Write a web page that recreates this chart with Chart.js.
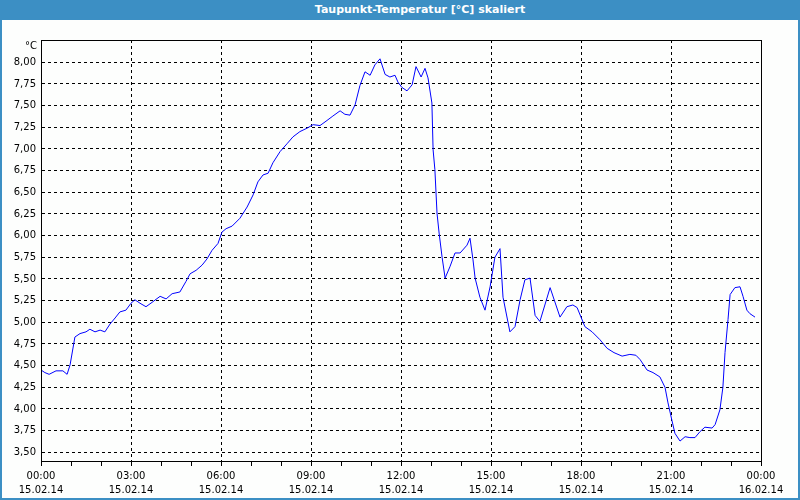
<!DOCTYPE html>
<html lang="de">
<head>
    <meta charset="UTF-8">
    <title>Taupunkt-Temperatur</title>
    <script src="https://cdn.jsdelivr.net/npm/chart.js"></script>
    <style>
        body { margin: 0; background: #ffffff; }
        #frame { position: relative; width: 800px; height: 500px; background: #fdfefd; overflow: hidden; }
        #title {
            position: absolute; top: 0; left: 0; width: 760px; height: 20px; padding-left: 40px;
            background: #3c8fc4; color: #ffffff; text-align: center;
            font: bold 11px "DejaVu Sans", sans-serif; line-height: 20px;
        }
        #grafico { position: absolute; top: 20px; left: 0; }
        #edge {
            position: absolute; top: 20px; left: 0; width: 800px; height: 480px; box-sizing: border-box;
            border: 2px solid #3c8fc4; border-top: none; pointer-events: none;
        }
    </style>
</head>
<body>
    <div id="frame">
        <div id="title">Taupunkt-Temperatur [°C] skaliert</div>
        <canvas id="grafico" width="800" height="480"></canvas>
        <div id="edge"></div>
    </div>

    <script>
        // Zeit in Stunden ab 15.02.14 00:00 und Taupunkt in °C
        const hours = [
            0, 0.13, 0.27, 0.5, 0.73, 0.87, 0.97, 1.13, 1.3, 1.5,
            1.63, 1.8, 1.97, 2.13, 2.3, 2.47, 2.63, 2.83, 3.0, 3.13,
            3.3, 3.5, 3.7, 3.97, 4.17, 4.37, 4.63, 4.83, 4.97, 5.17,
            5.37, 5.53, 5.7, 5.9, 6.03, 6.17, 6.37, 6.63, 6.87, 7.07,
            7.23, 7.4, 7.57, 7.73, 7.97, 8.2, 8.4, 8.63, 8.87, 9.07,
            9.3, 9.5, 9.73, 9.97, 10.13, 10.3, 10.47, 10.63, 10.8, 10.97,
            11.13, 11.3, 11.47, 11.63, 11.8, 11.9, 12.03, 12.2, 12.37, 12.5,
            12.67, 12.8, 12.9, 13.03, 13.07, 13.13, 13.2, 13.27, 13.37, 13.47,
            13.63, 13.8, 13.97, 14.2, 14.3, 14.4, 14.47, 14.63, 14.8, 14.97,
            15.13, 15.3, 15.4, 15.63, 15.8, 15.97, 16.13, 16.3, 16.47, 16.63,
            16.97, 17.3, 17.53, 17.73, 17.87, 18.13, 18.37, 18.63, 18.87, 19.1,
            19.37, 19.63, 19.83, 19.97, 20.2, 20.4, 20.63, 20.8, 20.9, 21.03,
            21.13, 21.3, 21.47, 21.63, 21.8, 21.97, 22.13, 22.37, 22.47, 22.63,
            22.73, 22.8, 22.9, 22.97, 23.13, 23.3, 23.4, 23.53, 23.63, 23.8
        ];
        const dewPoint = [
            4.45, 4.42, 4.40, 4.44, 4.44, 4.40, 4.51, 4.83, 4.87, 4.89,
            4.92, 4.89, 4.91, 4.89, 4.98, 5.05, 5.12, 5.14, 5.22, 5.26,
            5.22, 5.18, 5.23, 5.30, 5.27, 5.33, 5.35, 5.47, 5.56, 5.60,
            5.66, 5.73, 5.83, 5.91, 6.04, 6.08, 6.11, 6.20, 6.33, 6.47,
            6.62, 6.70, 6.72, 6.84, 6.97, 7.06, 7.14, 7.20, 7.24, 7.28,
            7.27, 7.32, 7.38, 7.44, 7.40, 7.39, 7.51, 7.73, 7.89, 7.85,
            7.97, 8.04, 7.86, 7.83, 7.85, 7.77, 7.71, 7.67, 7.74, 7.95,
            7.83, 7.93, 7.82, 7.53, 6.99, 6.76, 6.26, 6.03, 5.75, 5.51,
            5.64, 5.80, 5.80, 5.89, 5.97, 5.72, 5.51, 5.29, 5.14, 5.41,
            5.75, 5.85, 5.29, 4.89, 4.95, 5.26, 5.49, 5.51, 5.08, 5.01,
            5.40, 5.06, 5.18, 5.20, 5.17, 4.95, 4.89, 4.80, 4.70, 4.65,
            4.61, 4.63, 4.62, 4.57, 4.45, 4.42, 4.37, 4.25, 4.07, 3.87,
            3.72, 3.63, 3.68, 3.67, 3.67, 3.74, 3.79, 3.78, 3.82, 3.99,
            4.25, 4.65, 5.03, 5.32, 5.40, 5.41, 5.30, 5.14, 5.10, 5.06
        ];

        const yTicks = [3.50, 3.75, 4.00, 4.25, 4.50, 4.75, 5.00, 5.25, 5.50, 5.75, 6.00, 6.25, 6.50, 6.75, 7.00, 7.25, 7.50, 7.75, 8.00];
        const xLabelHours = [0, 3, 6, 9, 12, 15, 18, 21, 24];
        const xLabelTimes = ['00:00', '03:00', '06:00', '09:00', '12:00', '15:00', '18:00', '21:00', '00:00'];
        const xLabelDates = ['15.02.14', '15.02.14', '15.02.14', '15.02.14', '15.02.14', '15.02.14', '15.02.14', '15.02.14', '16.02.14'];

        const tickFont = { family: 'DejaVu Sans', size: 10, lineHeight: 1.45 };

        // Rahmen um die Zeichenfläche und Einheit oben links
        const rahmen = {
            id: 'rahmen',
            afterDatasetsDraw(chart) {
                const { ctx, chartArea: a } = chart;
                ctx.save();
                ctx.strokeStyle = '#000000';
                ctx.lineWidth = 1;
                ctx.strokeRect(Math.round(a.left) + 0.5, Math.round(a.top) + 0.5, Math.round(a.right - a.left), Math.round(a.bottom - a.top));
                ctx.fillStyle = '#000000';
                ctx.font = '10px "DejaVu Sans"';
                ctx.textAlign = 'right';
                ctx.textBaseline = 'middle';
                ctx.fillText('°C', a.left - 4, a.top + 6);
                ctx.restore();
            }
        };

        new Chart(document.getElementById('grafico'), {
            type: 'line',
            data: {
                datasets: [{
                    data: hours.map((h, i) => ({ x: h, y: dewPoint[i] })),
                    borderColor: '#0000ff',
                    borderWidth: 1,
                    pointRadius: 0,
                    tension: 0,
                    fill: false
                }]
            },
            options: {
                responsive: false,
                animation: false,
                layout: { padding: { top: 20, right: 39, left: 0, bottom: 0 } },
                plugins: { legend: { display: false }, tooltip: { enabled: false } },
                scales: {
                    x: {
                        type: 'linear',
                        min: 0,
                        max: 24,
                        afterFit(axis) { axis.height = 39; },
                        ticks: {
                            stepSize: 1,
                            autoSkip: false,
                            maxRotation: 0,
                            padding: 3,
                            color: '#000000',
                            font: tickFont,
                            callback(v) {
                                const i = xLabelHours.indexOf(v);
                                return i < 0 ? '' : [xLabelTimes[i], xLabelDates[i]];
                            }
                        },
                        grid: {
                            color: ctx => (ctx.tick && ctx.tick.value % 3 === 0) ? '#000000' : 'transparent',
                            tickColor: '#000000',
                            tickLength: 5
                        },
                        border: { color: '#000000', dash: [3, 3] }
                    },
                    y: {
                        min: 3.40,
                        max: 8.257,
                        afterBuildTicks(axis) { axis.ticks = yTicks.map(v => ({ value: v })); },
                        afterFit(axis) { axis.width = 41; },
                        ticks: {
                            padding: 5,
                            color: '#000000',
                            font: tickFont,
                            callback: v => v.toFixed(2).replace('.', ',')
                        },
                        grid: { color: '#000000', drawTicks: false },
                        border: { color: '#000000', dash: [3, 3] }
                    }
                }
            },
            plugins: [rahmen]
        });
    </script>
</body>
</html>
